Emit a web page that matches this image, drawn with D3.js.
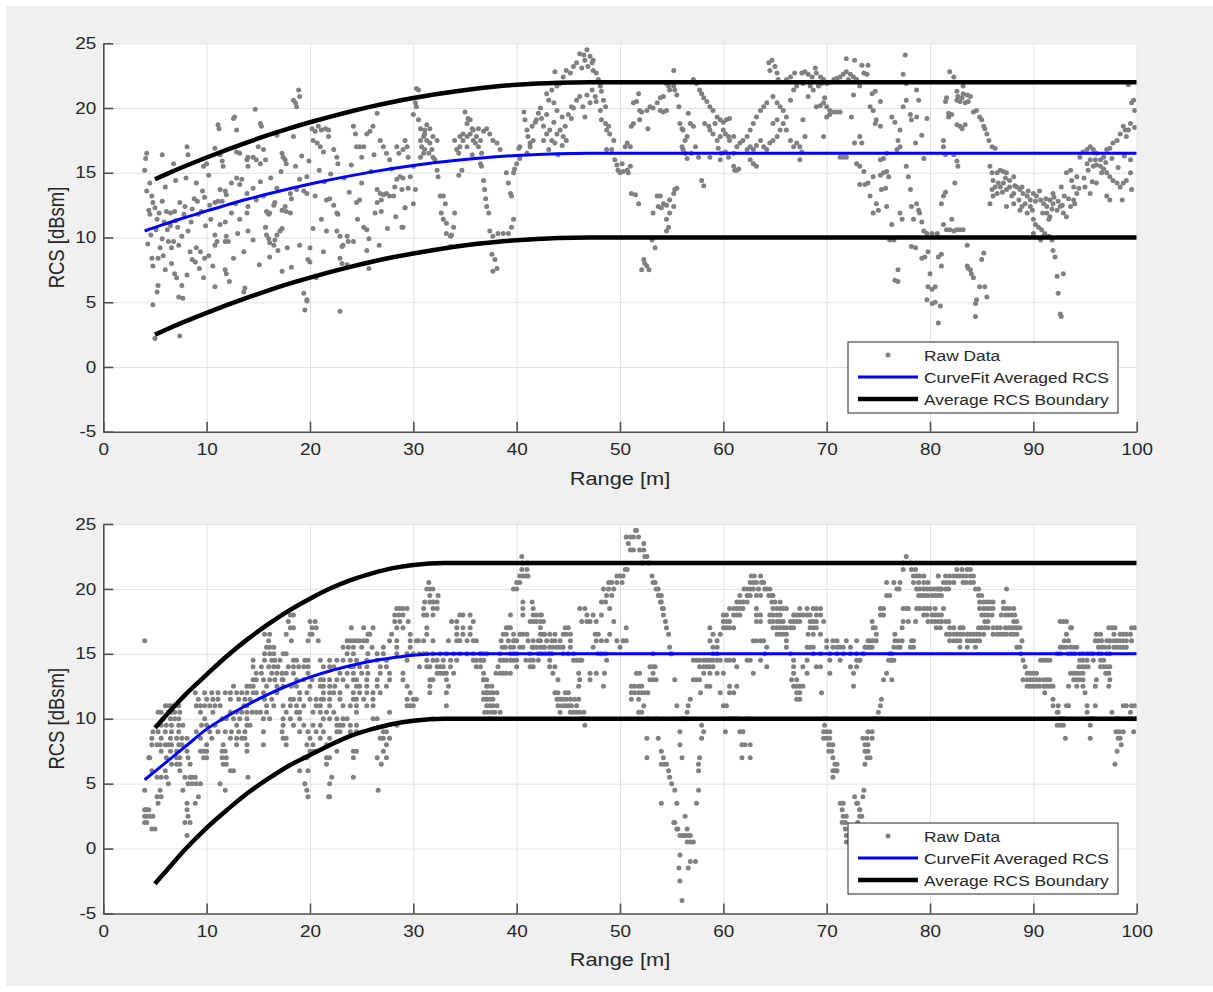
<!DOCTYPE html>
<html>
<head>
<meta charset="utf-8">
<script src="https://cdn.jsdelivr.net/npm/d3@7"></script>
<style>
body{margin:0;background:#ffffff;}
text{font-family:"Liberation Sans",Arial,Helvetica,sans-serif;fill:#262626;}
</style>
</head>
<body>
<div id="fig"></div>
<script>
//tick values
var xTicks = [0,10,20,30,40,50,60,70,80,90,100];
var yTicks = [-5,0,5,10,15,20,25];
var legendLabels = ["Raw Data","CurveFit Averaged RCS","Average RCS Boundary"];

//top panel : fitted curves (range [m], RCS [dBsm])
var fitTopX = [4,6,8,10,12,14,16,18,20,22,24,26,28,30,32,34,36,38,40,42,44,47,100];
var fitTopY = [10.5,11.05,11.56,12.06,12.52,12.97,13.38,13.77,14.13,14.47,14.78,15.07,15.33,15.56,15.77,15.95,16.11,16.24,16.34,16.42,16.47,16.5,16.5];
var bndTopX = [5,6,8,10,12,14,16,18,20,22,24,26,28,30,32,34,36,38,40,42,44,47,100];
var bndTopUpper = [14.5,14.86,15.54,16.18,16.79,17.37,17.92,18.43,18.9,19.34,19.75,20.13,20.47,20.77,21.04,21.28,21.49,21.66,21.79,21.89,21.96,22,22];
var bndTopLower = [2.5,2.86,3.54,4.18,4.79,5.37,5.92,6.43,6.9,7.34,7.75,8.13,8.47,8.77,9.04,9.28,9.49,9.66,9.79,9.89,9.96,10,10];

//bottom panel : fitted curves
var fitBotX = [4,6,8,10,12,14,16,18,20,22,24,26,28,30,33,100];
var fitBotY = [5.3,6.6,7.9,9.2,10.2,11.1,11.9,12.6,13.2,13.7,14.1,14.45,14.7,14.9,15,15];
var bndBotX = [5,6,8,10,12,14,16,18,20,22,24,26,28,30,33,100];
var bndBotUpper = [9.3,10.2,11.9,13.4,14.85,16.15,17.3,18.35,19.25,20.05,20.7,21.2,21.6,21.85,22,22];
var bndBotLower = [-2.7,-1.8,0.0,1.6,3.0,4.3,5.4,6.4,7.2,8.0,8.7,9.2,9.6,9.85,10,10];

//top panel raw data : [range, rcs]
var rawTop = [
[4.0,15.2],[4.2,16.5],[4.1,16.1],[5.7,16.4],[8.1,17.0],[8.2,16.4],[6.8,15.7],[11.1,18.7],[11.2,18.4],[12.6,19.2],[12.7,19.3],[12.9,18.3],[14.7,19.9],[15.2,18.8],[15.3,18.6],[15.0,17.0],[15.5,16.8],[15.7,16.0],[13.9,16.0],[14.0,15.5],[12.9,16.6],[13.2,16.5],[11.3,16.4],[11.5,15.9],[11.6,15.5],[10.8,16.9],[9.7,15.5],[10.0,15.7],[14.0,16.2],[14.5,16.2],[14.8,16.0],[15.2,15.7],[17.3,16.5],[17.4,16.2],[17.6,16.0],[17.7,15.7],[16.8,17.9],[18.4,20.6],[18.6,20.4],[18.7,20.1],[18.9,21.4],[19.0,20.9],[18.4,17.8],[20.2,18.4],[20.5,18.2],[20.8,18.6],[21.1,18.3],[21.5,18.4],[21.8,18.3],[20.3,17.5],[20.7,17.3],[21.0,17.0],[21.3,16.6],[21.8,17.8],[22.6,16.2],[22.7,15.7],[22.3,16.8],[24.2,18.6],[24.4,18.0],[24.5,17.0],[24.8,17.0],[25.2,17.0],[25.0,16.2],[25.5,18.0],[25.8,18.2],[26.1,18.6],[26.5,19.6],[26.8,17.5],[27.1,17.0],[27.4,16.5],[27.7,16.0],[28.4,17.0],[28.6,16.5],
[4.2,13.6],[4.5,14.2],[4.7,13.2],[4.8,12.7],[4.4,12.1],[4.5,11.8],[5.2,11.4],[5.7,12.8],[5.7,9.9],[6.1,12.0],[6.5,11.9],[6.3,9.7],[6.6,9.2],[6.8,9.7],[7.3,9.4],[7.6,10.1],[7.4,12.7],[6.9,12.0],[4.7,8.4],[5.3,8.4],[5.8,8.6],[4.8,7.8],[6.6,8.0],[6.9,7.2],[7.1,6.9],[7.6,6.3],[5.3,6.3],[5.2,5.8],[7.3,5.4],[7.7,5.3],[4.8,4.8],[8.4,8.9],[8.6,8.3],[9.0,9.2],[9.4,8.9],[8.9,8.1],[9.8,8.4],[9.7,6.9],[10.8,6.2],[11.8,7.5],[11.9,7.2],[10.8,10.2],[10.8,9.4],[11.0,9.7],[11.9,10.1],[11.8,9.7],[12.1,9.7],[11.3,11.0],[11.8,11.2],[10.3,12.5],[10.8,12.7],[11.1,12.8],[11.5,12.8],[11.3,13.7],[11.8,13.6],[11.9,13.3],[12.4,14.2],[12.9,14.6],[13.2,14.1],[13.4,14.5],[13.9,13.4],[14.0,12.4],[13.9,11.9],[13.2,11.4],[14.0,10.5],[13.6,8.9],[13.7,6.1],[13.6,5.8],[15.8,12.0],[16.0,11.8],[16.1,11.9],[16.5,12.5],[16.6,12.7],[17.3,12.1],[17.6,12.4],[17.7,12.0],[18.1,11.9],[18.2,13.0],[18.1,13.4],[18.7,13.7],[19.0,14.5],[19.4,13.6],[19.7,13.4],[20.5,13.2],[19.7,14.7],[15.7,10.8],[15.8,10.2],[16.0,9.9],[16.1,9.6],[16.5,9.4],[16.6,9.8],[16.8,10.2],[17.1,10.5],[17.3,10.7],[16.9,9.0],[16.1,8.5],[17.3,7.4],[19.0,9.4],[20.0,9.2],[19.8,8.3],[20.0,8.1],[19.4,5.7],[19.7,5.2],[19.5,4.4],[20.3,10.7],[21.1,11.4],[21.6,10.5],[21.3,8.9],[21.6,12.9],[21.9,13.0],[22.3,12.5],[22.6,11.9],[22.7,11.8],[22.6,10.5],[22.9,10.1],[23.1,9.3],[23.2,9.4],[23.6,10.1],[23.7,9.7],[24.2,9.7],[22.9,8.4],[23.1,8.0],[23.6,7.9],[24.5,12.7],[24.8,12.9],[25.2,10.8],[25.5,10.6],[25.7,9.9],[25.5,9.0],[25.7,7.6],[22.9,4.3],[26.5,13.7],[26.8,13.4],[27.1,13.3],[27.4,13.4],[27.7,13.2],[28.1,13.2],[28.2,13.9],[28.4,14.5],[28.7,14.7],[28.9,13.7],[29.2,12.3],[29.0,10.8],[26.3,11.9],[26.9,12.0],[26.5,12.7],[26.9,12.9],
[5.0,2.2],[7.4,2.4],[19.7,5.1],[6.0,13.9],[7.0,14.4],[8.0,14.6],[9.0,14.2],[9.6,13.6],[10.2,14.8],[8.8,13.0],[7.9,12.4],[8.5,11.2],[9.2,11.8],[9.9,10.9],[10.4,11.4],
[5.0,12.3],[5.4,11.9],[5.9,11.2],[6.2,10.6],[6.5,10.9],[7.0,11.3],[7.2,10.8],[7.8,11.8],[8.2,10.5],[8.6,12.2],[9.1,12.8],[9.5,12.0],[9.8,13.1],[5.1,10.6],[4.6,10.2],[4.3,9.5],[5.5,9.2],[6.0,7.5],[8.1,7.1],[9.3,7.6],[10.2,8.6],[10.6,7.8],[12.4,11.9],[12.8,12.6],[13.0,10.3],[12.6,8.4],[14.5,13.8],[14.8,12.9],[15.2,14.3],[15.5,13.2],[16.2,14.6],[16.8,13.8],[17.2,15.1],[18.6,15.5],[19.2,16.3],[19.9,15.9],[20.9,15.2],[21.4,14.3],[22.0,14.9],[23.3,14.6],[23.8,13.5],[24.0,15.6],[25.0,14.2],[25.9,15.1],[26.2,16.4],[27.9,15.3],[28.3,11.6],[27.5,10.7],[26.7,9.4],[24.6,11.4],[20.6,6.9],[18.2,7.7],[17.8,9.2],[15.1,7.9],[14.5,9.8],[12.2,6.6],
[29.2,17.5],[29.4,17.0],[29.0,16.8],[29.5,16.2],[30.0,15.5],[29.7,14.7],[29.0,14.6],[29.5,13.8],[30.2,13.7],[30.0,12.6],[29.2,12.3],[28.9,10.8],[30.3,21.5],[30.5,21.4],[30.2,20.4],[30.3,20.1],[30.0,19.5],[30.5,19.1],
[30.7,17.5],[31.0,17.8],[31.1,18.0],[31.3,17.5],[31.6,17.3],[31.8,16.8],[31.9,16.2],[32.1,16.0],[32.3,15.2],[32.4,14.7],[30.8,17.0],[31.1,16.8],[31.5,16.5],[30.7,16.2],[31.0,16.5],[31.9,17.8],[32.3,17.5],[31.3,18.7],[31.6,18.4],[30.7,18.4],[31.1,18.3],[32.6,13.2],[32.9,13.2],[33.1,12.6],[32.7,11.9],[32.9,11.4],[33.2,11.1],[33.2,10.3],[33.6,10.1],[33.9,10.8],[34.0,11.9],[33.6,9.3],[33.7,10.2],
[34.2,16.8],[34.5,17.0],[34.8,17.5],[35.2,17.8],[35.5,18.0],[35.8,18.3],[36.1,17.8],[36.5,17.5],[34.5,17.8],[34.8,18.0],[35.2,18.8],[35.5,19.1],[35.7,18.4],[36.0,17.3],[36.3,17.0],[36.6,16.5],[34.0,17.5],[34.4,16.5],[35.0,19.7],[35.3,19.2],[36.3,18.4],[36.8,18.2],[37.1,18.4],[37.4,18.0],[37.7,17.5],[38.1,17.3],[38.4,16.8],[35.2,17.0],[35.8,17.5],[35.7,16.4],[34.7,15.2],[34.4,14.8],[36.5,15.7],[36.6,15.5],
[36.8,14.4],[36.9,13.7],[37.0,13.0],[37.1,12.4],[37.3,11.9],[37.4,10.5],[37.7,10.1],[38.2,10.3],[38.7,10.3],[39.2,10.3],[37.6,8.7],[37.9,8.3],[38.1,7.6],[37.7,7.4],
[39.0,15.0],[39.2,14.2],[39.4,13.4],[39.5,13.2],[39.7,15.0],[39.8,15.3],[40.0,15.7],[40.2,16.9],[39.7,11.4],[39.5,10.8],[40.3,17.0],
[40.7,19.7],[40.8,19.1],[41.0,18.3],[41.1,17.8],[41.3,17.3],[41.6,17.5],[41.5,18.6],[41.8,18.9],[41.9,19.1],[42.1,19.6],[42.3,20.0],[42.4,19.2],[42.6,18.6],[42.9,18.0],[43.2,18.3],[43.6,18.9],[43.4,17.5],[43.9,18.0],[44.2,18.3],[44.5,17.8],[44.8,17.5],[42.9,19.5],[43.1,20.6],[43.4,21.4],[43.7,22.8],[43.9,21.7],[44.2,21.9],[44.5,22.4],[44.8,22.9],[45.2,22.7],[45.5,23.2],[45.8,23.5],[42.9,21.1],[43.6,20.4],[43.9,19.8],[44.4,19.3],[44.7,18.6],[45.0,19.5],[45.3,19.2],[45.5,20.0],[41.0,16.5],[41.3,17.0],[40.3,16.1],[43.1,16.8],[42.6,17.5],[43.7,17.3],[44.0,16.4],[44.4,17.1],[45.3,20.1],[45.8,20.6],[46.1,20.9],[46.4,20.1],[46.6,19.3],
[46.1,24.2],[46.5,24.1],[46.8,24.5],[47.1,24.0],[47.3,23.5],[46.9,23.2],[47.4,22.9],[47.7,22.7],[47.9,22.2],[48.1,21.7],[48.2,21.3],[47.3,21.4],[47.6,20.9],[47.7,20.5],[46.8,21.0],[47.1,20.4],[48.4,20.6],[48.6,20.1],[47.4,23.7],[46.6,23.7],[46.3,23.1],[48.1,19.8],[48.2,19.1],[48.6,18.8],[48.9,18.6],[49.0,18.0],[49.4,17.5],[49.2,16.8],[48.7,16.8],[49.5,16.0],[49.7,15.6],[49.8,15.2],[50.2,15.7],[50.0,15.0],[50.3,15.1],[50.7,15.2],[50.8,15.0],[51.0,15.5],[50.5,17.0],[50.7,17.3],[51.0,17.0],[48.7,18.3],
[51.1,13.4],[51.5,13.3],[51.8,12.6],[52.3,8.3],[52.4,8.0],[52.6,7.8],[52.8,7.5],[52.1,7.5],[53.1,9.8],[53.4,9.2],[53.2,11.9],[53.6,13.2],[53.9,13.2],[54.2,12.6],[54.5,12.5],[54.0,12.3],[53.7,12.4],[54.8,12.9],[55.2,13.4],[55.3,13.7],[55.5,13.8],[54.8,11.9],[54.5,11.4],[54.7,10.8],[54.5,10.5],[55.2,12.4],
[51.3,20.4],[51.6,20.5],[51.8,21.1],[51.9,19.8],[52.1,19.7],[52.6,19.8],[52.9,20.1],[53.2,20.0],[53.6,20.4],[53.9,19.8],[54.2,19.7],[54.5,19.8],[55.2,22.9],[54.5,21.9],[54.7,21.7],[54.8,21.4],[54.2,20.9],[53.9,20.8],[51.1,18.6],[51.3,18.8],[52.7,18.4],[51.9,19.1],[55.2,21.7],[55.3,21.4],[55.5,21.0],[55.7,20.1],[55.8,18.8],[56.0,18.4],[56.1,18.3],[56.3,17.5],[56.5,17.8],[56.6,19.6],[56.8,18.8],[57.1,18.6],
[56.1,16.8],[56.3,16.5],[56.5,16.1],[56.0,17.0],[57.9,14.4],[58.1,14.0],[56.9,16.5],[57.3,17.0],[57.6,16.2],
[57.1,22.2],[57.4,21.9],[57.7,21.4],[57.9,21.1],[58.1,20.8],[58.4,20.5],[58.7,20.1],[59.0,19.8],[59.4,19.3],[59.7,19.1],[60.0,18.9],[60.3,19.1],[60.6,19.2],[58.7,18.3],[59.0,18.0],[59.4,17.5],[59.7,17.8],[59.2,18.8],[60.0,18.3],[60.2,18.0],[60.5,17.8],[60.6,17.5],[61.0,17.8],[58.2,18.8],[58.6,18.6],[59.5,16.9],[59.8,16.5],[60.2,16.6],[60.5,16.2],[61.0,16.5],[61.1,15.2],[61.5,15.3],[59.7,16.0],[58.7,16.2],
[61.3,17.0],[61.6,17.3],[61.9,17.5],[62.3,17.8],[62.6,18.3],[62.9,18.8],[63.2,19.3],[63.6,19.8],[63.9,20.1],[64.2,20.4],[62.3,16.8],[62.6,17.0],[62.9,16.8],[63.2,17.1],[63.6,17.5],[63.9,17.0],[64.2,16.8],[64.5,17.3],[64.8,17.5],[65.2,17.8],[65.5,18.3],[65.8,18.8],[66.1,19.3],[66.5,20.6],[66.8,21.4],[67.1,21.7],[64.4,23.5],[64.7,23.7],[65.0,23.2],[65.2,22.7],[65.3,22.2],[64.5,22.9],[64.8,20.9],[65.2,20.4],[65.5,20.1],[65.8,19.8],[62.9,15.7],[63.2,15.5],[62.6,16.0],[64.8,18.8],[65.2,19.1],[66.1,18.3],[66.5,17.5],[66.8,17.0],[67.1,17.3],[66.1,22.2],[66.5,22.4],[66.9,22.7],[61.3,15.2],[61.0,15.5],
[67.6,22.7],[67.9,22.8],[68.2,22.6],[68.6,22.4],[68.9,23.1],[69.0,22.7],[69.4,22.4],[69.7,22.2],[70.0,21.9],[70.3,22.0],[70.7,22.2],[71.0,22.3],[71.3,22.4],[71.6,22.6],[71.9,22.8],[72.1,22.2],[72.3,22.6],[72.6,22.4],[72.9,22.2],[73.2,21.7],[73.6,22.7],[73.9,22.6],[67.7,21.9],[68.4,21.7],[68.7,21.4],[69.2,21.7],[69.5,21.9],[68.2,20.9],[69.0,20.1],[69.4,20.2],[69.7,20.4],[69.8,20.8],[70.0,20.1],[70.3,19.8],[70.7,19.7],[71.0,19.7],[71.3,19.7],[70.0,19.3],[70.3,19.5],[71.9,23.8],[72.7,23.7],[73.4,23.3],[74.0,23.3],[74.4,21.1],[74.7,21.3],[74.2,20.1],[74.5,19.8],[74.8,19.1],[75.2,18.6],[74.7,18.8],[72.6,21.0],[72.4,19.3],[73.2,17.8],[73.4,17.3],[72.7,17.3],[71.3,16.2],[71.6,16.2],[71.9,16.2],[69.7,17.8],[67.7,19.1],[67.9,17.8],[67.4,17.0],[67.6,16.6],[67.4,16.0],[75.2,20.5],[75.5,16.1],[75.8,16.5],[75.2,16.0],[72.9,15.7],[73.2,15.5],[73.6,15.1],[73.2,14.1],[73.7,14.1],[74.0,14.2],[74.5,14.7],[75.2,14.8],[75.5,15.0],[75.8,15.1],[76.0,14.7],[75.7,13.8],[75.3,13.7],[74.2,13.2],[74.8,12.6],[75.0,12.1],[74.5,11.9],[75.8,12.4],[76.3,11.0],[76.1,9.8],[76.9,17.5],[77.1,17.0],[76.8,16.8],[76.3,19.3],[76.6,18.9],[77.1,18.3],[77.4,20.1],[77.7,20.6],[77.6,24.1],[77.4,22.6],[77.7,21.9],[78.1,19.5],[78.2,19.1],[78.7,21.4],[78.9,20.6],[78.7,19.3],[78.6,17.3],[79.2,17.9],[79.4,16.1],[79.7,19.2],[77.7,15.5],[77.9,14.7],[78.1,13.7],[78.2,12.4],[78.4,11.4],[78.7,12.6],[78.9,12.1],[79.0,11.9],[79.2,11.2],[79.4,10.5],[79.7,10.3],[80.2,10.3],[80.7,10.3],[77.1,11.9],[77.3,11.4],[76.5,9.8],[76.6,6.7],[76.9,6.6],[76.9,7.5],[78.2,9.3],[78.6,9.2],[79.2,8.4],[79.5,8.5],[79.8,8.9],[80.0,7.2],[79.8,6.2],[80.2,6.0],[80.5,6.2],[79.7,5.2],[80.2,4.9],[80.5,5.0],[80.8,3.4],[81.0,4.7],[80.8,8.5],[81.1,8.7],[81.1,7.8],[81.3,11.0],[81.6,10.6],[81.9,10.6],[82.3,10.5],[82.1,11.4],[81.8,19.3],[81.5,20.5],[81.6,20.8],[81.9,22.8],[82.3,22.4],[81.8,19.6],[82.1,19.5],[82.6,20.6],[82.9,20.5],[83.1,20.8],[83.4,20.4],[83.7,20.5],[82.7,20.9],[83.2,21.1],[83.6,21.0],[83.9,20.9],[82.6,21.3],[83.2,21.7],[82.6,18.7],[82.9,18.6],[83.1,18.4],[83.4,18.7],[84.2,19.7],[84.5,19.8],[84.8,19.3],[85.0,19.1],[85.2,18.6],[85.3,18.4],[85.5,18.0],[85.7,17.5],[86.0,17.0],[86.3,16.9],[82.6,15.9],[82.7,15.5],[82.4,14.2],[81.3,17.5],[81.3,17.0],[81.5,16.4],[82.3,16.4],[81.5,13.5],[81.3,13.2],[81.1,12.6],[82.6,10.6],[82.9,10.6],[83.2,10.6],[83.6,9.4],[83.7,7.6],[84.0,7.2],[83.9,7.5],[83.6,7.8],[84.2,6.9],[84.5,5.2],[84.4,4.9],[84.4,3.9],[84.8,6.2],[85.0,8.3],[85.2,8.8],[85.3,6.2],[85.5,5.4],
[85.8,15.5],[86.0,15.0],[86.1,14.4],[86.3,13.9],[86.5,15.0],[86.8,15.2],[87.1,15.1],[87.4,15.0],[87.7,14.4],[88.1,14.7],[88.4,13.9],[88.7,13.7],[89.0,13.4],[89.4,13.2],[89.7,12.9],[90.0,13.4],[90.3,13.2],[90.7,12.9],[91.0,12.6],[91.3,12.4],[91.6,12.9],[91.9,12.6],[92.3,12.1],[92.6,12.4],[92.9,11.9],[93.2,11.6],[93.6,12.4],[93.9,12.9],[94.2,13.4],[86.0,13.7],[86.1,13.2],[86.5,13.4],[86.8,13.9],[87.1,14.2],[87.4,13.7],[87.7,13.9],[88.1,13.4],[88.6,12.9],[88.9,12.4],[89.4,11.9],[89.7,12.4],[90.0,11.4],[90.2,11.0],[90.5,10.8],[90.8,10.6],[91.1,10.3],[91.5,10.1],[91.8,9.8],[91.9,9.0],[92.1,8.5],[92.3,7.0],[92.4,5.7],[92.6,4.1],[92.7,3.9],[92.9,7.2],[85.8,12.6],[87.4,12.4],[88.1,12.6],[88.7,12.1],[90.0,10.3],[90.7,9.8],[91.0,10.1],[91.3,11.9],[91.5,11.4],[91.9,13.4],[92.7,13.9],[93.2,15.0],[93.6,15.2],[93.7,14.4],[93.9,13.9],[94.2,14.7],[94.5,16.2],[94.8,16.6],[95.2,16.8],[95.5,17.0],[95.8,16.8],[96.1,16.5],[96.5,16.0],[96.8,16.2],[97.1,16.8],[97.4,16.9],[97.7,17.3],[98.1,17.5],[98.4,18.0],[98.7,18.6],[98.9,18.3],[99.0,17.8],[99.4,18.8],[99.5,20.4],[99.7,20.6],[99.2,18.3],[95.2,15.7],[95.5,16.0],[95.8,15.5],[96.1,15.6],[96.5,15.5],[96.8,15.3],[97.1,15.0],[97.4,14.7],[97.7,14.4],[98.1,14.2],[98.4,13.9],[98.7,14.2],[99.0,14.4],[99.4,15.0],[95.0,13.9],[95.5,13.4],[96.1,14.2],[97.1,13.2],[97.4,12.9],[98.6,12.9],[99.5,13.7],[99.8,19.8],[99.2,21.8],
[86.6,14.2],[87.0,13.5],[87.3,14.6],[87.9,13.2],[88.2,14.0],[88.9,13.9],[89.2,12.6],[89.5,13.6],[89.9,12.1],[90.2,12.8],[90.6,13.6],[90.9,11.9],[91.2,13.0],[91.6,11.6],[91.8,12.2],[92.0,13.1],[92.4,12.8],[92.8,12.5],[93.0,13.2],[93.4,13.0],[94.0,12.6],[94.4,13.8],[94.9,14.6],[95.3,15.2],[95.7,14.3],[96.0,16.0],[96.6,15.0],[97.0,15.8],[97.6,16.1],[98.2,15.4],[98.8,16.3],[99.4,16.0],[99.8,18.5]
];

//bottom panel raw data, quantised to 0.5 dB : [rcs level, range, range, ...]
var rawBottomRows = [
[16,4.0,16.0,18.2,19.8,20.8,23.6,23.9,24.2,24.5,24.8,25.2,25.5,27.7,28.4,29.7,30.3,30.5,31.0,31.9,33.4,34.2,34.5,35.2,35.8,36.1],
[16.5,15.6,16.1,17.7,20.0,20.2,25.6,25.8,27.9,29.7,31.3,34.2,34.8,35.5],
[17,18.1,18.4,20.2,20.6,24.0,25.2,26.1,28.4,29.0,31.3,34.2,34.8,35.5],
[17.5,17.9,20.0,20.5,28.2,28.7,29.5,33.7,34.2,35.8],
[18,18.1,18.4,28.2,28.6,29.0,31.0,31.3,31.9,34.5,34.8,35.5],
[18.5,28.4,28.7,29.0,29.4,31.0,31.9,32.3],
[19,31.1,31.6,31.9,32.3],
[19.5,31.6,32.4],
[20,31.3,31.6,31.9],
[20.5,31.5],
[15.5,15.8,16.1,16.5,23.2,23.7,24.2,25.0,26.0,27.1,28.4,29.7],
[15,15.6,16.1,16.5,17.4,17.7,23.6,24.2,25.6,26.5,27.1,28.4,29.4,30.0,30.6,31.0,31.3,31.9,32.6,33.2,33.9,34.5,35.2,35.8,36.5,37.1],
[14.5,14.5,15.6,16.3,16.6,17.1,18.4,18.7,19.5,19.8,21.0,21.9,22.6,23.2,23.9,24.5,25.5,26.5,27.4,29.4,31.3,31.9,32.3,32.9,33.6,34.2,35.8,36.1,36.8],
[14,14.5,15.3,16.0,16.5,16.9,17.9,18.4,18.9,19.4,19.8,21.3,21.9,22.3,23.9,24.2,24.8,25.5,26.8,27.4,30.6,31.3,31.6,32.3,32.6,32.9,33.6,36.1,36.5],
[13.5,14.8,15.3,16.3,16.8,17.3,17.7,18.4,19.8,22.9,23.6,24.2,25.0,25.6,26.8,27.7,29.0,32.3,32.6,32.9,33.2,33.9,36.8],
[13,14.5,14.8,15.5,16.1,16.6,17.3,17.4,18.7,19.4,20.2,21.0,21.3,21.9,22.6,23.2,24.2,24.5,25.5,26.5,27.7,29.0,31.6,31.9,33.2,36.8],
[12.5,12.6,13.9,14.2,14.5,15.8,16.8,17.4,18.2,18.7,20.0,21.0,21.3,21.9,22.4,23.6,24.5,24.8,25.5,26.5,27.4,29.4,31.6,33.4,37.1],
[12,8.9,9.8,10.5,11.1,11.8,12.3,12.9,13.4,13.9,14.5,14.8,15.5,16.8,19.0,19.7,21.3,21.9,22.3,22.9,24.2,24.8,25.5,26.1,26.8,29.7,31.6,33.2,37.1],
[11.5,9.2,10.0,10.6,11.1,12.3,13.1,13.7,14.2,15.6,16.3,18.1,18.4,19.0,20.0,20.6,21.1,21.3,21.9,22.9,24.2,24.5,25.2,26.1,29.4,30.0,30.3,36.8,37.1],
[11,6.0,6.3,6.6,6.9,7.3,9.0,9.4,9.8,10.3,10.8,11.3,13.6,13.9,15.8,16.5,17.4,18.1,18.7,19.4,20.6,21.0,21.9,23.2,23.9,24.5,25.5,26.1,29.4,29.7,30.0,33.2],
[10.5,5.3,5.6,6.3,6.6,6.9,7.4,9.4,10.6,12.3,12.9,13.4,13.9,14.4,14.8,15.2,15.8,17.7,18.7,19.0,20.3,21.0,21.6,22.3,24.5,27.7],
[10,5.8,6.5,6.9,7.3,9.8,11.5,11.9,12.6,13.2,13.9,15.5,16.1,17.4,18.1,19.0,21.3,21.9,22.6,23.2,23.6,26.1,26.5,31.9],
[9.5,5.6,6.1,6.6,7.3,7.7,9.5,10.0,10.8,12.9,13.9,14.2,17.4,18.4,19.4,20.3,21.0,22.6,22.9,23.2,23.9,24.5,28.4],
[9,4.8,5.3,6.0,6.6,7.3,9.0,10.3,11.1,11.8,12.4,13.1,13.7,15.5,17.3,19.0,19.8,20.6,21.3,22.6,22.9,23.9,24.5,27.1,27.4],
[8.5,4.7,5.6,6.5,7.1,7.6,8.1,9.4,10.5,12.3,12.9,13.4,13.7,17.4,17.7,20.0,21.0,21.9,26.8,27.1,27.7],
[8,4.7,5.2,5.5,6.0,6.3,6.6,7.3,7.6,10.0,11.6,12.9,13.9,15.5,17.7,19.7,20.3,21.6,27.4],
[7.5,5.6,6.5,7.1,8.1,9.4,9.7,10.0,11.5,11.8,13.9,20.0,20.3,20.6,22.6,24.2,24.5,27.1],
[7,4.4,4.5,6.1,7.1,7.4,8.2,9.7,10.0,11.5,11.9,19.4,19.7,21.6,21.9,24.2,26.5,27.4],
[6.5,6.6,7.1,7.4,8.4,11.6,11.9,21.6,26.9],
[6,4.7,6.0,7.4,12.3,12.6,19.0,19.8],
[5.5,5.2,5.6,6.1,7.9,8.4,8.6,8.9,14.0,22.1,24.2],
[5,6.3,8.2,8.6,9.0,9.4,11.3,19.5,21.9],
[4.5,4.0,5.5,7.7,11.8,19.7,26.6],
[4,5.2,5.6,9.2,19.8,21.8,21.9],
[3.5,5.3,8.1,8.9],
[3,4.0,4.1,4.2,4.4,8.1],
[2.5,4.0,4.2,4.5,4.8,8.2],
[2,4.0,4.2,7.9,8.4],
[1.5,4.7,5.0],
[1,8.1],
[24.5,51.5,51.6],
[24,50.6,51.0,51.3,51.8],
[23.5,52.3,50.8],
[23,51.0,51.3,51.9,52.3],
[22.5,40.5,52.4,52.6],
[22,40.6,41.1,52.1,52.3,52.7,52.9],
[21.5,40.5,41.0,50.5,50.7],
[21,40.3,40.6,40.9,41.1,50.0,50.3,49.7,53.1],
[20.5,40.0,40.3,48.9,49.2,49.7,50.2,53.2,53.4],
[20,39.7,40.0,48.4,48.9,49.4,53.5,53.7],
[19.5,48.7,49.2,53.7,53.9,54.0],
[19,40.6,41.5,48.2,48.6,53.9,54.0],
[18.5,40.6,41.6,46.1,46.6,49.0,54.1,54.2],
[18,39.4,40.6,41.6,41.9,42.3,42.4,46.8,47.4,48.2,54.2],
[17.5,41.3,41.6,41.9,42.3,42.6,46.3,46.8,47.1,47.7,49.4,54.4],
[17,39.0,39.2,39.4,42.3,44.7,45.0,50.6,54.5],
[16.5,38.7,39.0,39.7,40.3,40.6,41.0,42.3,42.6,42.7,43.2,43.7,44.5,44.8,45.2,47.6,47.9,49.0,54.7],
[16,38.5,39.2,39.7,39.8,40.0,41.1,41.6,42.1,42.3,42.9,43.4,43.7,44.2,45.2,47.7,48.2,48.7,49.7,50.3,50.6],
[15.5,38.6,38.9,39.4,39.7,40.3,40.6,41.5,41.6,41.9,42.3,42.6,42.7,43.2,43.5,43.9,44.2,44.5,45.2,47.4,50.0,54.8],
[15,36.5,36.8,38.4,39.4,39.7,40.0,41.3,42.1,42.4,42.7,43.1,43.2,43.4,44.5,45.0,45.5,47.9,48.2,48.6,53.2,54.9,55.0],
[14.5,36.5,36.8,38.4,38.7,39.0,39.4,39.7,40.0,40.9,41.3,41.6,42.1,43.2,45.5,45.8,46.1,46.3,48.7],
[14,38.2,40.0,41.3,41.6,43.2,43.7,52.9,53.2,53.4],
[13.5,38.0,38.4,38.7,39.0,39.4,43.5,46.0,47.1,48.5,47.7,51.6,51.9,53.2],
[13,36.8,37.1,44.0,46.1,47.1,52.9,53.2,53.5,55.3],
[12.5,37.2,37.6,46.0,48.4,51.1,51.4,51.8,52.1],
[12,36.8,37.1,37.4,37.7,38.1,43.7,44.0,44.7,45.0,51.1,51.4,51.8,52.1,52.4,52.7],
[11.5,37.1,37.4,37.7,43.9,44.2,44.5,44.8,45.2,45.6,46.0,51.1,51.8,56.8],
[11,37.1,37.4,37.7,38.1,44.0,44.4,44.7,45.0,45.3,45.8,52.3,55.5,56.6],
[10.5,36.9,37.2,37.6,37.9,38.4,44.2,45.2,45.5,45.8,46.1,46.5,52.1,51.8,56.5],
[10,37.4,46.3,46.5,52.7,53.5,55.6,56.0,56.3,56.5],
[9.5,46.6,57.9],
[9,55.8,58.1],
[8.5,52.6,53.7,57.9],
[8,55.8],
[7.5,54.0],
[7,52.6,54.2,56.0,57.7],
[6.5,54.0,54.3,54.5,57.6],
[6,54.7,57.6],
[5.5,54.8],
[5,55.0],
[4.5,55.3,57.6],
[3.5,54.0,55.5,57.4],
[2.5,56.3],
[2,55.2,55.3],
[1.5,55.5,55.6,56.5],
[1,55.8,56.1,56.3,56.6,56.8],
[0.5,56.5,56.8,57.1],
[-0.5,55.8],
[-1,56.8,57.3],
[-1.5,55.7,56.6],
[-2.5,55.8],
[-4,56.0],
[14.5,57.1,57.4,57.7,58.1,58.4,58.7,59.0,59.4,59.7,60.3,60.6,61.0,62.3,62.6,63.6],
[14,57.7,58.1,58.4,58.7,59.0,61.3,64.2],
[13.5,58.1,58.7,59.4,60.0,62.9],
[13,57.1,57.4,57.7],
[12.5,58.4,58.7,60.6,61.3],
[12,57.8,59.7,60.6,61.0],
[11,60.0,60.3],
[10,60.2,60.6,60.9,61.3,61.6,62.3,62.6],
[9,60.2,61.6,61.9],
[8,61.8,62.1,62.6],
[7,61.8,62.6],
[21,62.7,63.0,63.6],
[20.5,62.6,62.9,63.2,63.7,63.9],
[20,62.0,62.3,62.6,62.9,63.4,64.0,64.2,64.5],
[19.5,61.6,62.3,62.6,63.2,63.6,64.4,64.7,64.8],
[19,61.3,61.6,61.9,62.3,64.7,65.0,65.5],
[18.5,60.6,61.0,61.3,61.6,61.9,63.2,64.8,65.2,65.5,65.8,66.1],
[18,60.0,60.3,61.0,61.3,61.6,63.2,63.6,64.5,64.8,65.2,65.5,66.8,67.1],
[17.5,60.0,60.3,60.6,63.2,63.6,64.5,64.8,65.2,65.5,65.8,66.5,66.8],
[17,58.7,60.0,60.3,60.6,61.0,64.8,65.2,65.5,65.8,66.1,66.5,66.8],
[16.5,59.0,59.7,65.2,65.5,65.8,66.1],
[16,58.7,59.4,62.9,63.2,63.6,63.9,66.1],
[15.5,59.0,59.4,64.2,66.1],
[15,59.0,59.4,64.0,66.5],
[18.5,67.4,68.1,68.7,69.0,69.4],
[18,67.4,67.7,68.1,68.4,69.0,69.4],
[17.5,67.1,67.4,68.4,68.7,69.0,69.7],
[17,68.4,68.7,69.0],
[16.5,68.2,68.7,69.4],
[16,70.0,70.6,71.0,71.9,72.9,74.5],
[15.5,68.1,68.4,68.7,70.0,70.6,71.0,71.3,71.6,72.3,73.9,74.2],
[15,68.7,69.4,70.3,71.0,71.6,72.3,72.9,73.5],
[14.5,66.8,68.1,70.3,71.3,72.9,73.2],
[14,66.8,67.7,69.0,69.4,72.3,72.9],
[13.5,66.8,68.1,70.3,72.6],
[13,66.6,67.1],
[12.5,66.8,67.1,67.4,67.7,72.6],
[12,67.1,67.4,69.5],
[11.5,67.1,67.4],
[10,69.7,70.0],
[9.5,69.8],
[9,69.7,70.0,70.3,74.0,74.4],
[8.5,69.7,70.0,70.3,73.5,73.9],
[8,70.2,70.3,70.6,73.7],
[7.5,70.2,70.5,73.9],
[7,70.6],
[6.5,70.8,71.0],
[6,70.6,70.8,71.0],
[5.5,70.6],
[4,72.7,73.5],
[3.5,71.3,71.6,72.9,73.0],
[3,71.5,73.2],
[2.5,71.6,71.9,73.4],
[2,71.5,71.8,73.0],
[1.5,71.8],
[1,71.9,72.3],
[0.5,71.9],
[22.5,77.7],
[22,77.4,78.1,82.6],
[21.5,77.4,78.2,78.6,83.1,83.6,83.9,82.6],
[21,78.4,78.7,79.0,79.4,80.8,81.5,81.9,82.3,82.6,82.9,83.2,83.5,83.9,84.2],
[20.5,75.8,76.5,77.1,78.4,78.9,79.4,79.8,81.3,81.6,81.9,82.3,83.2,83.5,83.9,84.2],
[20,76.8,77.0,78.7,79.0,79.4,79.7,80.0,80.3,80.6,81.0,80.8,81.1,81.5,81.8,84.4,84.7,87.4],
[19.5,75.8,76.1,78.9,79.2,79.5,79.8,80.2,80.5,80.8,81.1,84.7,85.0],
[19,84.8,85.2,85.5,85.8,86.1,87.1],
[18.5,75.2,75.5,77.4,77.7,77.9,78.7,79.0,79.4,79.7,80.0,80.5,81.3,84.8,85.2,85.5,85.8,86.1,87.1,87.4,87.7,88.1],
[18,75.2,75.5,79.4,79.7,80.2,80.5,80.8,81.1,85.0,85.3,85.6,86.0,86.9,87.3,87.6,87.9,88.2],
[17.5,74.4,77.4,77.9,78.6,79.8,80.2,80.5,80.8,81.1,81.5,81.8,85.3,85.6,88.1,88.4,92.6,92.9,93.2],
[17,74.5,74.7,77.3,80.6,81.0,81.9,82.3,82.9,83.2,84.7,85.0,85.3,85.6,86.1,86.5,86.8,87.3,87.6,87.9,88.2,88.4,88.7,93.6,93.7,97.3,97.6,97.9,99.5,99.8],
[16.5,74.8,76.6,81.6,81.9,82.3,82.6,82.9,83.2,83.6,83.9,84.2,84.5,84.8,85.2,86.1,86.5,86.8,87.1,87.4,87.8,88.1,88.4,93.2,96.1,96.5,97.8,98.4,98.7,99.0,99.4],
[16,74.0,74.2,74.8,76.6,76.9,77.3,78.2,78.4,81.9,82.3,82.6,82.9,83.6,83.9,84.2,84.5,84.8,88.9,93.0,93.4,96.0,96.3,96.6,97.1,97.4,97.8,98.1,98.4,98.7,99.0,99.5],
[15.5,73.7,74.0,74.4,76.5,76.9,77.1,78.1,78.4,82.9,83.6,84.4,88.4,88.7,92.6,92.9,93.2,93.6,93.9,94.2,96.3,96.6,96.9,97.3,97.8,98.1,98.4,98.7,99.0],
[15,73.6,76.1,76.3,88.8,92.3,92.6,93.4,93.7,94.0,94.5,94.8,95.2,95.5,95.8,96.3,96.6,97.1,97.4],
[14.5,73.2,76.0,76.2,76.3,76.5,89.0,90.7,91.0,91.3,91.6,94.5,94.8,95.2,95.8,96.5,96.8],
[14,89.2,94.4,94.7,95.0,95.3,96.5,96.8,97.1,97.4],
[13.5,75.8,89.4,89.7,90.0,90.3,93.6,93.9,94.2,94.5,94.8,97.0,97.3],
[13,75.5,76.3,89.0,89.4,89.7,90.0,90.3,90.6,91.0,91.3,91.6,93.9,94.2,94.5,94.8,96.1,97.4],
[12.5,89.4,89.7,90.0,90.3,90.6,91.0,91.3,91.6,91.9,93.4,94.2,94.8,96.0,97.3],
[12,91.1,95.0],
[11.5,75.3,91.9],
[11,75.2,91.9,92.4,93.2,93.4,95.2,96.0,98.7,99.0,99.5,99.8],
[10.5,75.0,92.3,92.4,95.2,97.6,99.4],
[10,74.5,74.8,75.2,92.6,92.8,93.0,95.3,95.6,95.8,98.0,98.3,98.7,99.2,99.5,99.9],
[9.5,92.3,92.6,92.9,95.5],
[9,98.0,98.3,98.7,99.7],
[8.5,74.4,93.1,95.5,98.2,98.4],
[8,74.0,98.5],
[7.5,73.7,74.0,98.1],
[7,73.9,74.2],
[6.5,73.7,97.9],
[4.5,73.6],
[3,73.2],
[2.5,73.2]
];

var rawBottom = [];
rawBottomRows.forEach(function(r){
  for(var i=1; i<r.length; i++){ rawBottom.push([r[i], r[0]]); }
});

//figure layout
var W = 1213, H = 992;
var textScale = 1.18;
var panels = [
  {top:43.3, bottom:431.7, raw:rawTop, fitX:fitTopX, fitY:fitTopY, bndX:bndTopX, up:bndTopUpper, lo:bndTopLower, legY:342, xLabelY:485},
  {top:524, bottom:913.5, raw:rawBottom, fitX:fitBotX, fitY:fitBotY, bndX:bndBotX, up:bndBotUpper, lo:bndBotLower, legY:823, xLabelY:966}
];
var left = 103.3, right = 1136.7;

var svg = d3.select("#fig").append("svg")
  .attr("width", W).attr("height", H);

svg.append("rect").attr("x",6).attr("y",6).attr("width",W-6).attr("height",H-12)
  .attr("fill","#f0f0f0");

//plain hyphen for negative tick labels, as in the original figure
var tickFmt = function(d){ return String(d); };

draw_panel = function(p, idx){
  var x = d3.scaleLinear().domain([0,100]).range([left,right]);
  var y = d3.scaleLinear().domain([-5,25]).range([p.bottom,p.top]);
  var g = svg.append("g");
  var h = p.bottom - p.top;

  g.append("rect").attr("x",left).attr("y",p.top)
    .attr("width",right-left).attr("height",h).attr("fill","#ffffff");

  //grid lines
  g.append("g").attr("transform","translate(0,"+p.bottom+")")
    .call(d3.axisBottom(x).tickValues(xTicks).tickSize(-h).tickFormat(""))
    .call(function(s){ s.select(".domain").remove(); })
    .selectAll("line").attr("stroke","#e2e2e2").attr("stroke-width",1);
  g.append("g").attr("transform","translate("+left+",0)")
    .call(d3.axisLeft(y).tickValues(yTicks).tickSize(-(right-left)).tickFormat(""))
    .call(function(s){ s.select(".domain").remove(); })
    .selectAll("line").attr("stroke","#e2e2e2").attr("stroke-width",1);

  var clipId = "clip"+idx;
  g.append("clipPath").attr("id",clipId).append("rect")
    .attr("x",left).attr("y",p.top).attr("width",right-left).attr("height",h);
  var plot = g.append("g").attr("clip-path","url(#"+clipId+")");

  //raw data points
  plot.selectAll("circle").data(p.raw).enter().append("circle")
    .attr("cx", function(d){return x(d[0]);})
    .attr("cy", function(d){return y(d[1]);})
    .attr("r", 2.5)
    .style("fill", "#808080");

  var line = d3.line().curve(d3.curveMonotoneX)
    .x(function(d){return x(d[0]);}).y(function(d){return y(d[1]);});
  var zip = function(a,b){ return a.map(function(v,i){return [v,b[i]];}); };

  plot.append("path").datum(zip(p.bndX,p.up)).attr("d",line)
    .attr("fill","none").attr("stroke","#000000").attr("stroke-width",4.5);
  plot.append("path").datum(zip(p.bndX,p.lo)).attr("d",line)
    .attr("fill","none").attr("stroke","#000000").attr("stroke-width",4.5);
  plot.append("path").datum(zip(p.fitX,p.fitY)).attr("d",line)
    .attr("fill","none").attr("stroke","#0000ff").attr("stroke-width",3);

  //axes with inward ticks
  var ax = g.append("g").attr("transform","translate(0,"+p.bottom+")")
    .call(d3.axisBottom(x).tickValues(xTicks).tickFormat(tickFmt).tickSizeInner(-10).tickSizeOuter(0).tickPadding(12));
  var ay = g.append("g").attr("transform","translate("+left+",0)")
    .call(d3.axisLeft(y).tickValues(yTicks).tickFormat(tickFmt).tickSizeInner(-10).tickSizeOuter(0).tickPadding(6));
  [ax,ay].forEach(function(a){
    a.select(".domain").attr("stroke","#505050").attr("stroke-width",1.6);
    a.selectAll(".tick line").attr("stroke","#505050").attr("stroke-width",1.6);
    a.selectAll(".tick text").attr("font-size",16).attr("font-family",null)
      .style("fill","#262626").attr("transform","scale("+textScale+",1)");
  });

  //axis labels
  g.append("text").attr("text-anchor","middle")
    .attr("transform","translate("+((left+right)/2)+","+p.xLabelY+") scale("+textScale+",1)")
    .attr("font-size",18.5).text("Range [m]");
  g.append("text").attr("text-anchor","middle")
    .attr("transform","translate(64,"+((p.top+p.bottom)/2)+") rotate(-90) scale(1,"+textScale+")")
    .attr("font-size",18.5).text("RCS [dBsm]");

  //legend
  var lg = g.append("g").attr("transform","translate(848,"+p.legY+")");
  lg.append("rect").attr("width",270).attr("height",71)
    .attr("fill","#ffffff").attr("stroke","#262626").attr("stroke-width",1);
  var rows = [13,35,57];
  lg.append("circle").attr("cx",40).attr("cy",rows[0]).attr("r",2.5).style("fill","#808080");
  lg.append("line").attr("x1",10).attr("x2",70).attr("y1",rows[1]).attr("y2",rows[1])
    .attr("stroke","#0000ff").attr("stroke-width",3);
  lg.append("line").attr("x1",10).attr("x2",70).attr("y1",rows[2]).attr("y2",rows[2])
    .attr("stroke","#000000").attr("stroke-width",4.5);
  lg.selectAll("text.leg").data(legendLabels).enter().append("text")
    .attr("class","leg")
    .attr("transform", function(d,i){return "translate(76,"+(rows[i]+5.5)+") scale(1.12,1)";})
    .attr("font-size",15.5)
    .text(function(d){return d;});
}

panels.forEach(function(p,i){ draw_panel(p,i); });
</script>
</body>
</html>
